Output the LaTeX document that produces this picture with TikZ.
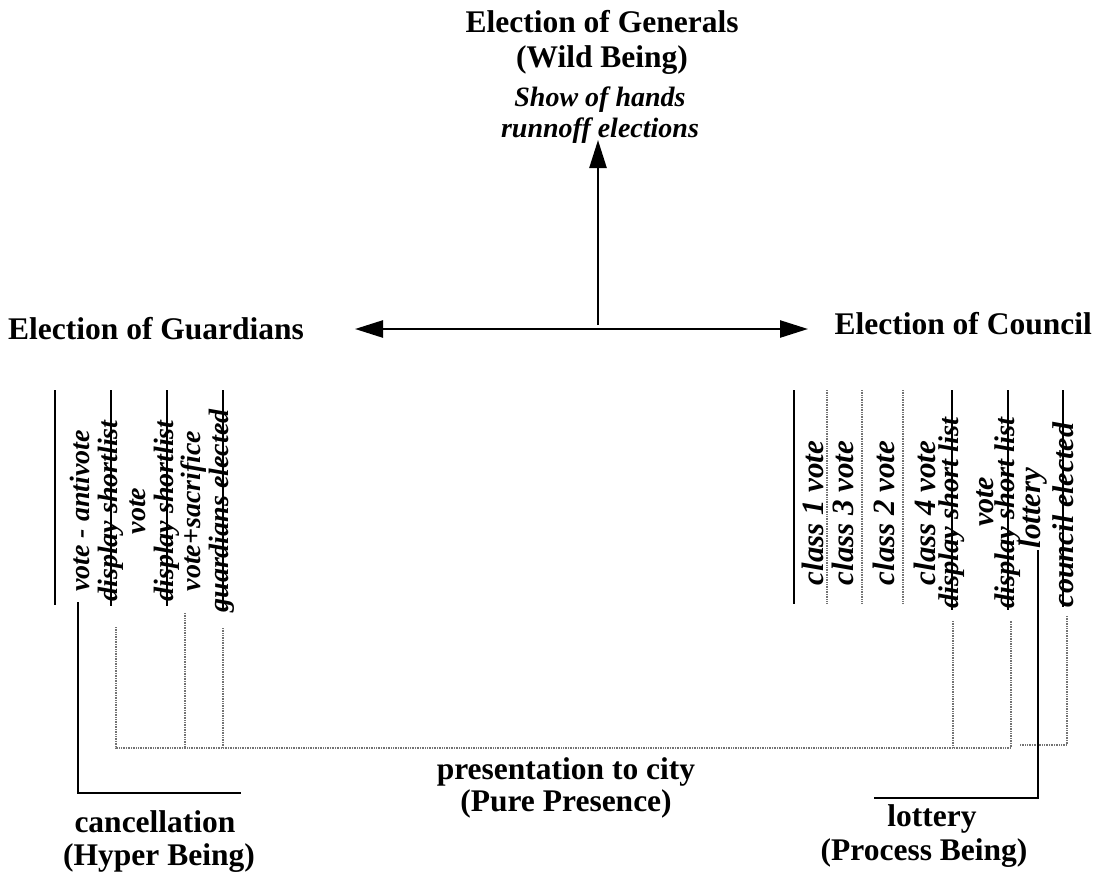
\documentclass[tikz,border=0pt]{standalone}
\usepackage{fontspec}
\setmainfont{Liberation Serif}
\usetikzlibrary{arrows.meta}
\begin{document}
\begin{tikzpicture}[x=1pt,y=-1pt,
  >={Triangle[length=28pt,width=17pt]},
  bar/.style={line width=2.5pt, black},
  dots/.style={line width=1.3pt, black!55, dash pattern=on 1pt off 0.7pt},
  head/.style={font=\fontsize{31.5}{34}\selectfont\bfseries, inner sep=0},
  sub/.style={font=\fontsize{28}{30}\selectfont\bfseries\itshape, inner sep=0},
  vt/.style={font=\fontsize{28}{27.8}\selectfont\bfseries\itshape, rotate=90, inner sep=0, align=center},
  vtb/.style={vt, font=\fontsize{31}{31}\selectfont\bfseries\itshape},
  lab/.style={font=\fontsize{31.5}{33}\selectfont\bfseries, inner sep=0},
  arr/.style={line width=2.5pt, ->},
  arrboth/.style={line width=2.5pt, <->}
]
\useasboundingbox[fill=white] (0,0) rectangle (1097,873);

% top block
\node[head, anchor=base] (gen1) at (602,32) {Election of Generals};
\node[head, anchor=base] (gen2) at (602,67) {(Wild Being)};
\node[sub, anchor=base] (gen3) at (600,106) {Show of hands};
\node[sub, anchor=base] (gen4) at (600,137) {runnoff elections};

% side headings
\node[head, anchor=base west] (guard) at (8,339) {Election of Guardians};
\node[head, anchor=base east] (council) at (1092,334) {Election of Council};

% arrows
\coordinate (hub) at (598,325);
\coordinate (lt) at (355,329);
\coordinate (rt) at (808,329);
\coordinate (top) at (598,140);
\draw[arr] (hub) -- (top);
\draw[arrboth] (lt) -- (rt);

% left vertical block
\node[vt] (gblock) at (152.5,511) {vote - antivote\\display shortlist\\vote\\display shortlist\\vote+sacrifice\\guardians elected};

% right vertical texts
\node[vtb] (c1) at (813,513) {class 1 vote};
\node[vtb] (c3) at (843,513) {class 3 vote};
\node[vtb] (c2) at (884,513) {class 2 vote};
\node[vtb] (c4) at (925,513) {class 4 vote};
\node[vt, font=\fontsize{28.5}{28}\selectfont\bfseries\itshape] (ds1) at (952,513) {display short list};
\node[vt, font=\fontsize{30}{30}\selectfont\bfseries\itshape] (v2) at (985,502) {vote};
\node[vt, font=\fontsize{28.5}{28}\selectfont\bfseries\itshape] (ds2) at (1008,513) {display short list};
\node[vtb] (lot) at (1033,508) {lottery};
\node[vt, font=\fontsize{30}{30}\selectfont\bfseries\itshape] (ce) at (1063,515) {council elected};

% left solid bars
\draw[bar] (55,390) -- (55,605);
\draw[bar] (111,390) -- (111,606);
\draw[bar] (167,390) -- (167,606);
\draw[bar] (223,390) -- (223,610);

% right bars
\draw[bar] (794,390) -- (794,604);
\draw[dots] (827,390) -- (827,604);
\draw[dots] (862,390) -- (862,604);
\draw[dots] (903,390) -- (903,604);
\draw[bar] (952,390) -- (952,610);
\draw[bar] (1008,390) -- (1008,610);
\draw[bar] (1063,390) -- (1063,607);

% dotted presentation lines
\draw[dots] (116,627) -- (116,748) -- (1011,748) -- (1011,621);
\draw[dots] (185,613) -- (185,748);
\draw[dots] (223,628) -- (223,748);
\draw[dots] (953,621) -- (953,748);
\draw[dots] (1020,745) -- (1067,745) -- (1067,616);

% cancellation and lottery brackets
\draw[bar] (78,602) -- (78,793) -- (241,793);
\draw[bar] (1038,550) -- (1038,798) -- (874,798);

% bottom labels
\node[lab, anchor=base] (pres1) at (566,779) {presentation to city};
\node[lab, anchor=base] (pres2) at (566,811) {(Pure Presence)};
\node[lab, anchor=base] (canc1) at (155,832) {cancellation};
\node[lab, anchor=base] (canc2) at (159,865) {(Hyper Being)};
\node[lab, anchor=base] (lot1) at (932,826) {lottery};
\node[lab, anchor=base] (lot2) at (924,860) {(Process Being)};
\end{tikzpicture}
\end{document}
